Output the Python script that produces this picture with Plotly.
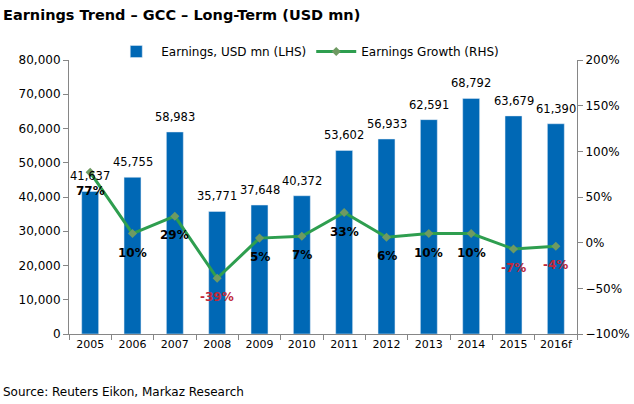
import plotly.graph_objects as go

years = ["2005", "2006", "2007", "2008", "2009", "2010", "2011", "2012", "2013", "2014", "2015", "2016f"]
earnings = [41637, 45755, 58983, 35771, 37648, 40372, 53602, 56933, 62591, 68792, 63679, 61390]
growth = [77, 10, 29, -39, 5, 7, 33, 6, 10, 10, -7, -4]

FONT = "DejaVu Sans"
bar_color = "#0068B5"
line_color = "#2E9E4F"

fig = go.Figure()
fig.add_trace(go.Bar(
    x=years, y=earnings, name="Earnings, USD mn (LHS)",
    marker=dict(color=bar_color), width=0.4,
))
fig.add_trace(go.Scatter(
    x=years, y=growth, name="Earnings Growth (RHS)", yaxis="y2",
    mode="lines+markers",
    line=dict(color=line_color, width=3),
    marker=dict(symbol="diamond", size=7, color="#6E9A62"),
    cliponaxis=False,
))

annotations = []
for i, v in enumerate(earnings):
    annotations.append(dict(x=i, y=v, xref="x", yref="y", text=f"{v:,}", showarrow=False,
                            yshift=15, font=dict(family=FONT, size=11.5, color="#000000")))
for i, g in enumerate(growth):
    annotations.append(dict(x=i, y=g, xref="x", yref="y2", text=f"<b>{g}%</b>", showarrow=False,
                            yshift=-19,
                            font=dict(family=FONT, size=12,
                                      color="#C0283A" if g < 0 else "#000000")))
annotations += [
    dict(text="<b>Earnings Trend – GCC – Long-Term (USD mn)</b>", xref="paper", yref="paper",
         x=-68/508, y=1 + 45/274, xanchor="left", yanchor="middle", showarrow=False,
         font=dict(family=FONT, size=14.5)),
    dict(text="Source: Reuters Eikon, Markaz Research", xref="paper", yref="paper",
         x=-68/508, y=-58/274, xanchor="left", yanchor="middle", showarrow=False,
         font=dict(family=FONT, size=12)),
]

fig.update_layout(
    width=634, height=404,
    margin=dict(l=69, r=57, t=60, b=70, autoexpand=False),
    paper_bgcolor="white", plot_bgcolor="white",
    font=dict(family=FONT, size=12, color="#000000"),
    showlegend=True,
    legend=dict(orientation="h", x=0.47, xanchor="center", y=1 - 37/404, yanchor="top",
                yref="container", itemwidth=40,
                font=dict(family=FONT, size=12), bgcolor="rgba(0,0,0,0)"),
    bargap=0.6,
    xaxis=dict(type="category", range=[-0.5, len(years) - 0.5], showline=True,
               linecolor="#868686", linewidth=1,
               ticks="outside", tickson="boundaries", ticklen=5, tickcolor="#868686",
               showgrid=False, tickangle=0, tickfont=dict(family=FONT, size=11)),
    yaxis=dict(range=[0, 80000], dtick=10000, tickformat=",d", showline=True,
               linecolor="#868686", ticks="outside", ticklen=5, tickcolor="#868686",
               showgrid=False, zeroline=False, tickfont=dict(family=FONT, size=12)),
    yaxis2=dict(range=[-100, 200], dtick=50, ticksuffix="%", overlaying="y", side="right",
                showline=True, linecolor="#868686", ticks="outside", ticklen=5,
                tickcolor="#868686", showgrid=False, zeroline=False,
                tickfont=dict(family=FONT, size=12)),
    annotations=annotations,
)

fig.write_html("out.html", config={"displayModeBar": False},
               post_script="document.body.style.margin='0';document.body.style.overflow='hidden';")
